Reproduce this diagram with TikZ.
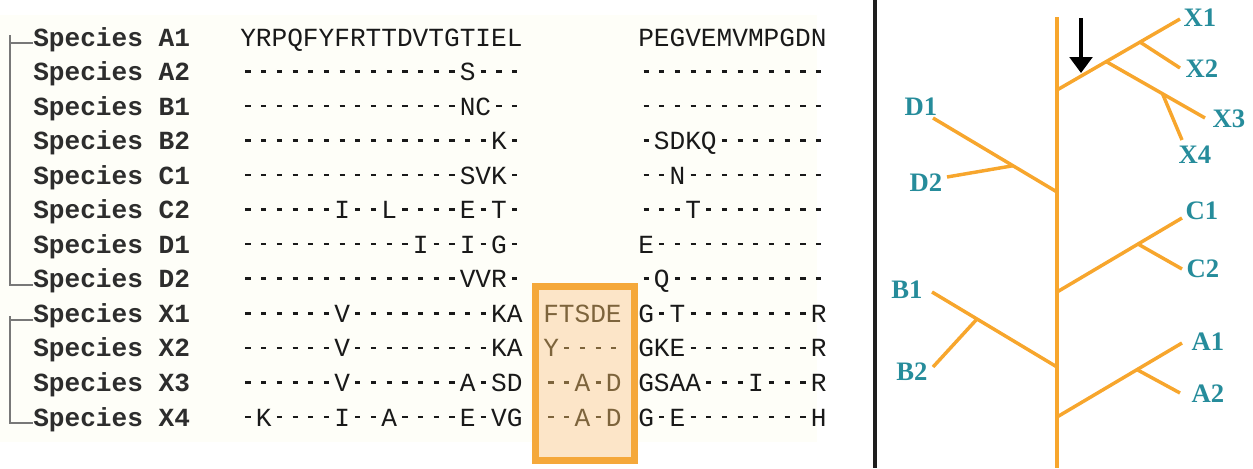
\documentclass[tikz,border=0pt]{standalone}
\usepackage{fontspec}
\usetikzlibrary{arrows.meta,calc}
\newfontfamily\monof{Liberation Mono}
\newfontfamily\serf{Liberation Serif}
\definecolor{treeor}{RGB}{247,166,45}
\definecolor{boxor}{RGB}{245,168,58}
\definecolor{boxfill}{RGB}{252,229,200}
\definecolor{tlab}{RGB}{38,140,155}
\definecolor{lblgray}{RGB}{45,45,45}
\definecolor{seqgray}{RGB}{25,25,25}
\definecolor{boxbrown}{RGB}{125,100,60}
\definecolor{bracketgray}{RGB}{120,120,120}
\definecolor{panelbg}{RGB}{254,254,248}
\definecolor{sepcol}{RGB}{30,30,30}
\newcommand\shortdash{\makebox[0.6em]{\rule[0.3em]{0.2em}{0.1em}}}
\def\seqs#1{\seqloop#1\relax}
\def\seqloop#1{\ifx#1\relax\else\ifx#1-\shortdash\else#1\fi\expandafter\seqloop\fi}
\begin{document}
\begin{tikzpicture}[x=0.75pt,y=-0.75pt,
  lbl/.style={font=\monof\bfseries\fontsize{19.6}{20}\selectfont, text=lblgray, inner sep=0, anchor=base west},
  seqtxt/.style={font=\monof\fontsize{19.6}{20}\selectfont, text=seqgray, inner sep=0, anchor=base west},
  boxtxt/.style={seqtxt, text=boxbrown},
  branch/.style={draw=treeor, line width=2.6pt},
  taxon/.style={font=\serf\bfseries\fontsize{20}{22}\selectfont, text=tlab, inner sep=0},
  bracket/.style={draw=bracketgray, line width=1.5pt},
]
\useasboundingbox (0,0) rectangle (1253,468);
\fill[panelbg] (0,15) rectangle (817,442);
% highlight box
\draw[draw=boxor, fill=boxfill, line width=5.25pt] (535,286) rectangle (634,460);
% alignment rows
\foreach \n/\lab/\ba/\bc [count=\i from 0] in {
  A1/Species A1/YRPQFYFRTTDVTGTIEL/PEGVEMVMPGDN,
  A2/Species A2/--------------S---/------------,
  B1/Species B1/--------------NC--/------------,
  B2/Species B2/----------------K-/-SDKQ-------,
  C1/Species C1/--------------SVK-/--N---------,
  C2/Species C2/------I--L----E-T-/---T--------,
  D1/Species D1/-----------I--I-G-/E-----------,
  D2/Species D2/--------------VVR-/-Q----------,
  X1/Species X1/------V---------KA/G-T--------R,
  X2/Species X2/------V---------KA/GKE--------R,
  X3/Species X3/------V-------A-SD/GSAA---I---R,
  X4/Species X4/-K----I--A----E-VG/G-E--------H}{
  \node[lbl] (s\n) at (33,{46+34.55*\i}) {\lab};
  \node[seqtxt] (q\n) at (240,{46+34.55*\i}) {\expandafter\seqs\expandafter{\ba}};
  \node[seqtxt] (r\n) at (638,{46+34.55*\i}) {\expandafter\seqs\expandafter{\bc}};
}
\foreach \n/\bb [count=\i from 8] in {X1/FTSDE, X2/Y----, X3/--A-D, X4/--A-D}{
  \node[boxtxt] (b\n) at (543,{46+34.55*\i}) {\expandafter\seqs\expandafter{\bb}};
}
% brackets
\coordinate (brA) at (10,35);
\coordinate (brX) at (10,316);
\draw[bracket] (sA1.mid west) -| (brA) |- (sD2.mid west);
\draw[bracket] (sX1.mid west) -| (brX) |- (sX4.mid west);
% separator
\coordinate (sepT) at (875,0);
\coordinate (sepB) at (875,468);
\draw[line width=2.5pt, sepcol] (sepT) -- (sepB);
% tree
\coordinate (top) at (1057,17);
\coordinate (bot) at (1057,468);
\coordinate (jX) at (1057,90);
\coordinate (eX1) at (1180,19);
\coordinate (jX2) at ($(jX)!0.675!(eX1)$);
\coordinate (eX2) at (1180,68);
\coordinate (jX3) at ($(jX)!0.40!(eX1)$);
\coordinate (eX3) at (1205,118);
\coordinate (jX4) at ($(jX3)!0.57!(eX3)$);
\coordinate (eX4) at (1182,140);
\coordinate (jD) at (1057,192);
\coordinate (eD1) at (933,118);
\coordinate (jD2) at ($(jD)!0.355!(eD1)$);
\coordinate (eD2) at (947,177);
\coordinate (jC) at (1057,292);
\coordinate (eC1) at (1182,218);
\coordinate (jC2) at ($(jC)!0.648!(eC1)$);
\coordinate (eC2) at (1182,269);
\coordinate (jB) at (1057,367);
\coordinate (eB1) at (932,292);
\coordinate (jB2) at ($(jB)!0.64!(eB1)$);
\coordinate (eB2) at (933,367);
\coordinate (jA) at (1057,417);
\coordinate (eA1) at (1182,343);
\coordinate (jA2) at ($(jA)!0.64!(eA1)$);
\coordinate (eA2) at (1180,393);
\draw[branch] (top) -- (bot);
\draw[branch] (jX) -- (eX1);
\draw[branch] (jX2) -- (eX2);
\draw[branch] (jX3) -- (eX3);
\draw[branch] (jX4) -- (eX4);
\draw[branch] (jD) -- (eD1);
\draw[branch] (jD2) -- (eD2);
\draw[branch] (jC) -- (eC1);
\draw[branch] (jC2) -- (eC2);
\draw[branch] (jB) -- (eB1);
\draw[branch] (jB2) -- (eB2);
\draw[branch] (jA) -- (eA1);
\draw[branch] (jA2) -- (eA2);
% taxon labels
\node[taxon] (tX1) at (1200,18) {X1};
\node[taxon] (tX2) at (1202,69) {X2};
\node[taxon] (tX3) at (1229,119) {X3};
\node[taxon] (tX4) at (1195,155) {X4};
\node[taxon] (tD1) at (921,107) {D1};
\node[taxon] (tD2) at (926,183) {D2};
\node[taxon] (tC1) at (1202,211) {C1};
\node[taxon] (tC2) at (1203,269) {C2};
\node[taxon] (tB1) at (907,290) {B1};
\node[taxon] (tB2) at (912,372) {B2};
\node[taxon] (tA1) at (1208,342) {A1};
\node[taxon] (tA2) at (1208,394) {A2};
% arrow
\coordinate (arT) at (1081,18);
\coordinate (arB) at (1081,73);
\draw[line width=2.6pt, black, -{Triangle[width=17pt,length=12pt]}] (arT) -- (arB);
\end{tikzpicture}
\end{document}
